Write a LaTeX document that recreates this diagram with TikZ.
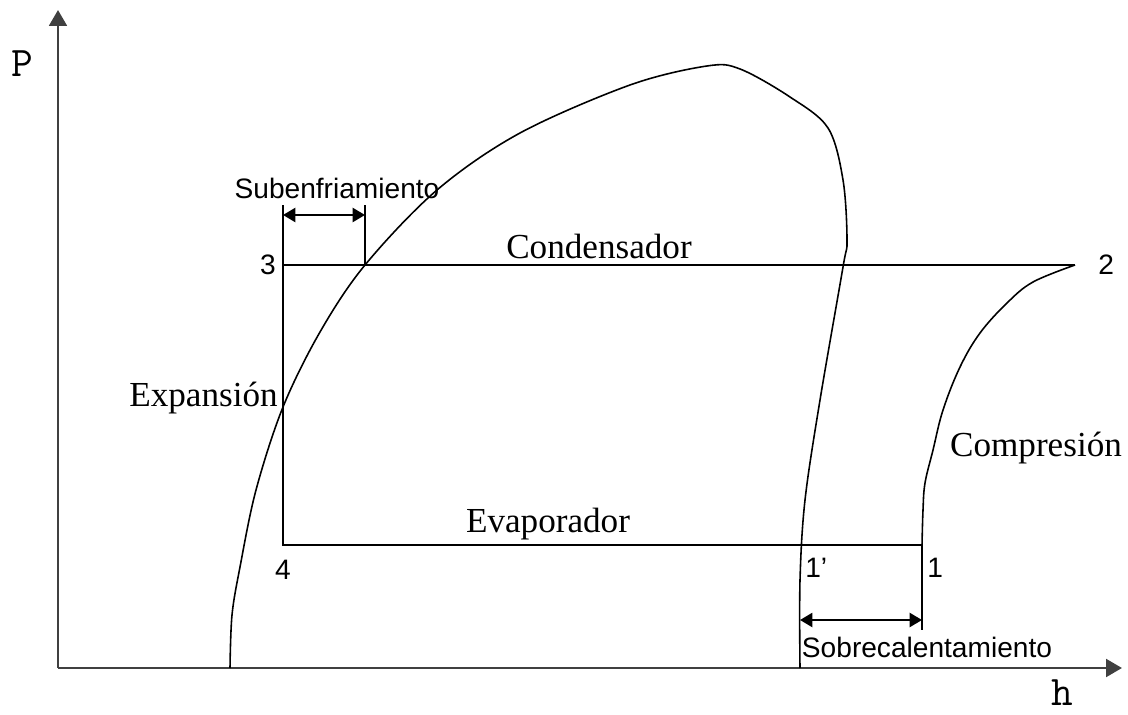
\documentclass[tikz,border=0pt]{standalone}
\usepackage{fontspec}
\setmainfont{Liberation Serif}
\setsansfont{Liberation Sans}
\usetikzlibrary{arrows.meta,positioning}

\begin{document}
\begin{tikzpicture}[x=0.02cm,y=-0.02cm,inner sep=0pt,
  axis/.style={line width=1.6pt,draw=black!75,-{Triangle[length=9pt,width=10pt]}},
  cycleline/.style={line width=1.1pt},
  dome/.style={line width=0.9pt},
  dim/.style={line width=1.1pt,{Triangle[length=7pt,width=8pt]}-{Triangle[length=7pt,width=8pt]}},
  big/.style={font=\fontsize{20}{24}\selectfont},
  small/.style={font=\sffamily\fontsize{16}{19}\selectfont}]
  \useasboundingbox (0,0) rectangle (1128,715);
  % axes
  \coordinate (o) at (58,668);
  \coordinate (ytip) at (58,10);
  \coordinate (xtip) at (1122,668);
  \draw[axis] (o) -- (ytip);
  \draw[axis] (o) -- (xtip);
  \node[font=\ttfamily\fontsize{24}{26}\selectfont] (P) at (22,64) {P};
  \node[font=\ttfamily\fontsize{24}{26}\selectfont] (h) at (1062,693) {h};
  % saturation dome
  \draw[dome] plot[smooth,tension=0.55] coordinates {(230,668) (232,615) (240,567) (256,490)
    (283,407) (320,332) (365,265) (437,190) (520,133) (630,85) (707,66) (740,69) (790,97)
    (828,128) (843,180) (847,240) (843,267) (820,400) (805,500) (800,580) (800,668)};
  % cycle points
  \coordinate (p3) at (283,265);
  \coordinate (p2) at (1075,265);
  \coordinate (p4) at (283,545);
  \coordinate (p1) at (922,545);
  \coordinate (p1b) at (800,545);
  \coordinate (sat) at (365,265);
  \draw[cycleline] (p2) -- (p3) -- (p4) -- (p1);
  \draw[dome] plot[smooth,tension=0.6] coordinates {(p1) (923,510) (925,483) (933,450)
    (943,410) (960,367) (980,333) (1007,303) (1033,282) (p2)};
  % subenfriamiento
  \coordinate (sb1) at (283,205);
  \coordinate (sb2) at (365,205);
  \coordinate (sa1) at (283,215);
  \coordinate (sa2) at (365,215);
  \draw[cycleline] (p3) -- (sb1);
  \draw[cycleline] (sat) -- (sb2);
  \draw[dim] (sa1) -- (sa2);
  \node[small] (sub) at (337,188) {Subenfriamiento};
  % sobrecalentamiento
  \coordinate (p1low) at (922,630);
  \coordinate (sc1) at (800,620);
  \coordinate (sc2) at (922,620);
  \draw[cycleline] (p1) -- (p1low);
  \draw[dim] (sc1) -- (sc2);
  \node[small] (sob) at (927,647) {Sobrecalentamiento};
  % labels
  \node[small,left=0.14cm of p3] (l3) {3};
  \node[small,right=0.46cm of p2] (l2) {2};
  \node[small,below=0.3cm of p4] (l4) {4};
  \node[small,below right=0.26cm and 0.1cm of p1b] (l1b) {1’};
  \node[small,below right=0.26cm and 0.1cm of p1] (l1) {1};
  \node[big] (cond) at (599,246) {Condensador};
  \node[big] (evap) at (548,524) {Evaporador};
  \node[big,anchor=east] (exp) at (278,398) {Expansión};
  \node[big] (comp) at (1036,448) {Compresión};
\end{tikzpicture}
\end{document}
